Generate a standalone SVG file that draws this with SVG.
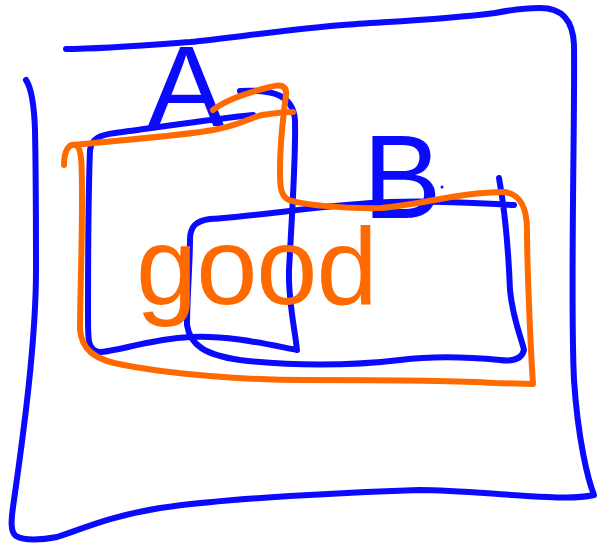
<svg xmlns="http://www.w3.org/2000/svg" width="597" height="543" viewBox="0 0 597 543">
<style>
.b{fill:none;stroke:#0a0aff;stroke-width:6;stroke-linecap:round;stroke-linejoin:round}
.o{fill:none;stroke:#ff6a00;stroke-width:6;stroke-linecap:round;stroke-linejoin:round}
.tb{fill:#0a0aff;font-family:"Liberation Sans",Arial,sans-serif;text-anchor:middle}
.to{fill:#ff6a00;font-family:"Liberation Sans",Arial,sans-serif}
</style>
<rect width="597" height="543" fill="#fff"/>
<g id="frame">
<path class="b" d="M26,80 C30,86 34,100 35,130 C36,180 36,230 36,270 C36,340 24,430 14,500 C11,520 10,532 16,536 C24,541 42,540 57,537 C80,530 110,516 160,508 C230,498 350,492 419,490 C460,490 500,495 548,497 C565,498 585,497 594,495 C588,480 578,440 574,380 C570,300 575,120 574,45 C573,20 562,8 540,8 C520,8 505,11 495,13 C440,20 380,22 343,25 C300,28 230,38 190,42 C150,45 100,49 66,49"/>
</g>
<g id="boxA">
<path class="b" d="M240,91 C275,89 293,96 295,120 C296,160 291,230 289,270 C288,300 295,330 297,350 C270,345 230,335 190,337 C150,339 115,352 99,352 C88,350 88,340 88,320 C88,270 88,200 90,150 C92,138 100,135 115,133 C160,127 220,118 253,115"/>
<text class="tb" x="186" y="126" font-size="115">A</text>
</g>
<g id="boxB">
<path class="b" d="M499,178 C503,200 508,240 510,290 C513,320 522,340 524,350 C522,358 515,362 500,360 C470,357 430,356 400,360 C350,366 290,366 240,360 C205,355 190,345 187,325 C187,300 190,260 190,240 C190,226 196,221 210,219 C260,216 330,204 390,202 C440,200 490,204 514,205"/>
<text class="tb" x="402" y="218" font-size="118">B</text>
<circle cx="442" cy="187" r="1.5" fill="#0a0aff"/>
</g>
<g id="good">
<path class="o" d="M64,165 C64,152 68,143 76,145 C82,148 82,165 82,200 C82,250 80,300 80,330 C82,350 95,358 114,363 C170,375 250,380 305,380 C380,380 450,380 495,383 L533,384 C530,340 527,260 527,230 C527,210 522,195 505,192 C460,192 420,205 381,208 C340,209 300,204 289,200 C280,196 280,185 280,170 C280,140 284,110 286,95 C287,85 280,84 270,87 C250,92 225,100 213,110"/>
<path class="o" d="M72,145 C120,140 180,136 213,130 C240,125 250,118 262,115 C275,113 285,112 293,112"/>
<text class="to" x="136" y="304" font-size="110" letter-spacing="-1">good</text>
</g>
</svg>
